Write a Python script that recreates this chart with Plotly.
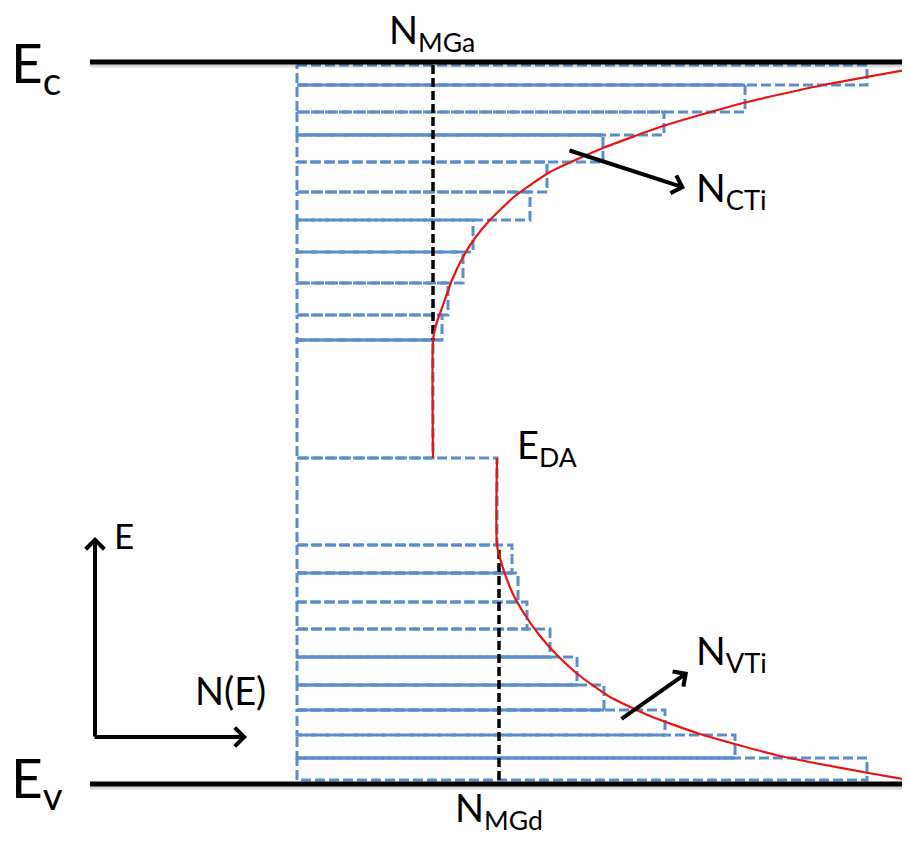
import plotly.graph_objects as go

# ---------------- data (E: energy above Ev, N: density of states) ----------------
E_v = 0
E_c = 722
# conduction-band tail states: band edges (top -> bottom) and densities
cb_edges = [719, 699, 672, 649, 622, 592, 564, 532, 501, 469, 444, 326]
cb_density = [570, 448, 367, 306, 250, 233, 176, 166, 151, 145, 136]
# which band edges are drawn solid: (band index, side)
cb_solid = [(1, "top"), (3, "top"), (9, "bottom")]

# valence-band tail states: band edges (top -> bottom) and densities
vb_edges = [326, 239, 211, 182, 155, 127, 99, 74, 49, 26, 4]
vb_density = [200, 215, 221, 230, 253, 280, 307, 368, 438, 570]
vb_solid = [(1, "bottom"), (4, "bottom"), (5, "bottom"), (6, "bottom"), (8, "bottom")]

# continuous tail distributions (red)
ncti_N = [136, 136, 139, 146, 155, 166, 178, 193, 218, 253, 306, 366, 446, 526, 608]
ncti_E = [326, 444, 459, 479, 504, 527, 546, 564, 588, 612, 636, 658, 681, 699, 714]
nvti_N = [200, 200, 206, 215, 228, 243, 260, 283, 313, 353, 403, 483, 566, 611]
nvti_E = [326, 239, 216, 192, 169, 148, 129, 108, 87, 68, 50, 28, 12, 4]

# midgap densities
N_MGa = 136
N_MGd = 202

BLUE = "#5B8DCC"
fig = go.Figure()


def rect_path(edges, dens):
    xs, ys = [], []
    for i, w in enumerate(dens):
        t, b = edges[i], edges[i + 1]
        xs += [0, w, w, 0, 0, None]
        ys += [t, t, b, b, t, None]
    return xs, ys


def solid_path(edges, dens, spec):
    xs, ys = [], []
    for i, side in spec:
        e = edges[i] if side == "top" else edges[i + 1]
        xs += [0, dens[i], None]
        ys += [e, e, None]
    return xs, ys


for edges, dens, spec in [(cb_edges, cb_density, cb_solid), (vb_edges, vb_density, vb_solid)]:
    xs, ys = rect_path(edges, dens)
    fig.add_trace(go.Scatter(x=xs, y=ys, mode="lines",
                             line=dict(color=BLUE, width=3, dash="10px,4px")))
    xs, ys = solid_path(edges, dens, spec)
    fig.add_trace(go.Scatter(x=xs, y=ys, mode="lines",
                             line=dict(color=BLUE, width=3)))

# midgap dashed lines
fig.add_trace(go.Scatter(x=[N_MGa, N_MGa], y=[cb_edges[0], cb_edges[-2]], mode="lines",
                         line=dict(color="black", width=3.5, dash="9px,4px")))
fig.add_trace(go.Scatter(x=[N_MGd, N_MGd], y=[vb_edges[1] - 5, vb_edges[-1]], mode="lines",
                         line=dict(color="black", width=3.5, dash="9px,4px")))

# red tail curves
fig.add_trace(go.Scatter(x=ncti_N, y=ncti_E, mode="lines",
                         line=dict(color="#E8140F", width=2.2, shape="spline", smoothing=0.5)))
fig.add_trace(go.Scatter(x=nvti_N, y=nvti_E, mode="lines",
                         line=dict(color="#E8140F", width=2.2, shape="spline", smoothing=0.5)))

# band edge lines (with faint shadow)
for e in [E_c, E_v]:
    fig.add_trace(go.Scatter(x=[-207, 613], y=[e - 3, e - 3], mode="lines",
                             line=dict(color="rgba(0,0,0,0.15)", width=5)))
    fig.add_trace(go.Scatter(x=[-207, 613], y=[e, e], mode="lines",
                             line=dict(color="black", width=5)))

FONT = "Lato, 'Open Sans', sans-serif"
ann = []


def label(x, y, text, size, xanchor="left", yanchor="bottom"):
    ann.append(dict(x=x, y=y, xref="x", yref="y", text=text, showarrow=False,
                    xanchor=xanchor, yanchor=yanchor, borderpad=0,
                    font=dict(family=FONT, size=size, color="black")))


label(-287, 680, "E<sub>c</sub>", 55)
label(-287, -35, "E<sub>v</sub>", 55)
label(135, 725, "N<sub>MGa</sub>", 38, xanchor="center")
label(202, -53, "N<sub>MGd</sub>", 38, xanchor="center")
label(219, 310, "E<sub>DA</sub>", 38)
label(398, 567, "N<sub>CTi</sub>", 39)
label(398, 104, "N<sub>VTi</sub>", 39)
label(-184, 227, "E", 35)
label(-103, 70, "N(E)", 38)


def arrow(x0, y0, x1, y1):
    ann.append(dict(x=x1, y=y1, ax=x0, ay=y0, xref="x", yref="y", axref="x", ayref="y",
                    text="", showarrow=True, arrowhead=4, arrowsize=0.9, arrowwidth=4,
                    arrowcolor="black", standoff=0, startstandoff=0))


arrow(-202, 46, -202, 247)
arrow(-204, 47, -50, 47)
arrow(271, 634, 388, 596)
arrow(323, 64, 391, 112)

# the page body has an 8px margin: the figure fills the rest of the window
fig.update_layout(
    width=902, height=840,
    margin=dict(l=0, r=0, t=0, b=0),
    paper_bgcolor="white", plot_bgcolor="white",
    showlegend=False,
    xaxis=dict(range=[-289, 613], visible=False, fixedrange=True),
    yaxis=dict(range=[-64, 776], visible=False, fixedrange=True),
    annotations=ann,
)

fig.write_html("out.html")
